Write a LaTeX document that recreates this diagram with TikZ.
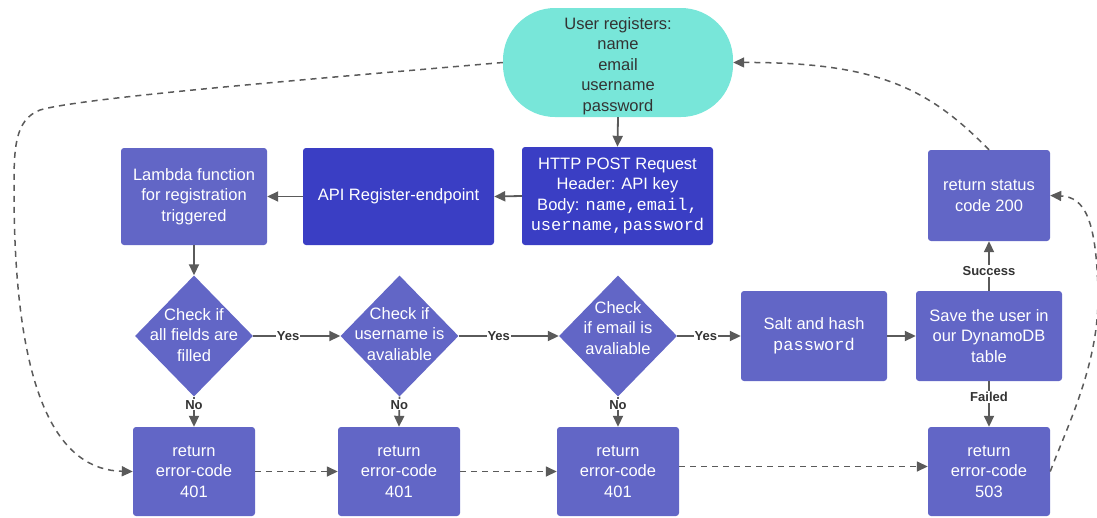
\documentclass[tikz,border=0pt]{standalone}
\usepackage{fontspec}
\setmainfont{Liberation Sans}
\setmonofont{Liberation Mono}
\usetikzlibrary{shapes.geometric,arrows.meta}
\definecolor{darkb}{HTML}{3A3EC4}
\definecolor{midb}{HTML}{6266C6}
\definecolor{teal}{HTML}{78E6D9}
\definecolor{gc}{HTML}{5A5A5A}
\definecolor{txt}{HTML}{333333}
\begin{document}
\begin{tikzpicture}[x=1pt,y=-1pt,
  base/.style={rectangle, rounded corners=3pt, text=white, align=center, inner sep=0pt,
     font=\fontsize{16.5}{20.5}\selectfont},
  midbox/.style={base, fill=midb},
  darkbox/.style={base, fill=darkb},
  dia/.style={diamond, fill=midb, inner sep=0pt, minimum width=118pt, minimum height=121pt},
  dtext/.style={text=white, align=center, inner sep=0pt, font=\fontsize{16.5}{20.5}\selectfont},
  arr/.style={draw=gc, line width=1.8pt, -{Triangle[length=11pt,width=10pt]}},
  darr/.style={draw=gc, line width=1.5pt, dash pattern=on 6pt off 5pt, -{Triangle[length=11pt,width=10pt]}},
  lbl/.style={fill=white, text=txt, inner sep=1pt, font=\fontsize{13}{15}\selectfont\bfseries}]
\useasboundingbox (0,0) rectangle (1097,517);

% nodes
\node[base, fill=teal, rounded corners=52pt, minimum width=230pt, minimum height=109pt] (start) at (618,62.5) {};
\node[dtext, text=txt] (startt) at (618,66) {User registers:\\name\\email\\username\\password};
\node[darkbox, minimum width=191pt, minimum height=98pt] (http) at (617.5,196)
  {HTTP POST Request\\Header: API key\\Body: {\fontsize{17}{20.5}\selectfont\ttfamily name,email,}\\{\fontsize{17}{20.5}\selectfont\ttfamily username,password}};
\node[darkbox, minimum width=191pt, minimum height=97pt] (api) at (398.5,196.5) {API Register-endpoint};
\node[midbox, minimum width=146pt, minimum height=97pt] (lambda) at (194,196.5) {Lambda function\\for registration\\triggered};
\node[midbox, minimum width=122pt, minimum height=91pt] (status) at (989,195.5) {return status\\code 200};

\node[dia] (d1) at (194,336) {};
\node[dia] (d2) at (399.5,336) {};
\node[dia] (d3) at (618,336) {};
\node[dtext] (d1t) at (194,335) {Check if\\all fields are\\filled};
\node[dtext] (d2t) at (399.5,334) {Check if\\username is\\avaliable};
\node[dtext] (d3t) at (618,328) {Check\\if email is\\avaliable};

\node[midbox, minimum width=146pt, minimum height=90pt] (salt) at (814,336) {Salt and hash\\{\fontsize{17}{20.5}\selectfont\ttfamily password}};
\node[midbox, minimum width=146pt, minimum height=90pt] (save) at (989,336) {Save the user in\\our DynamoDB\\table};

\node[midbox, minimum width=122pt, minimum height=89pt] (e1) at (194,471.5) {return\\error-code\\401};
\node[midbox, minimum width=122pt, minimum height=89pt] (e2) at (399,471.5) {return\\error-code\\401};
\node[midbox, minimum width=122pt, minimum height=89pt] (e3) at (618,471.5) {return\\error-code\\401};
\node[midbox, minimum width=122pt, minimum height=89pt] (e4) at (989,471.5) {return\\error-code\\503};

% solid connectors
\draw[arr] (start.south) -- (http.north);
\draw[arr] (http.west) -- (api.east);
\draw[arr] (api.west) -- (lambda.east);
\draw[arr] (lambda.south) -- (d1.north);
\draw[arr] (d1.east) -- node[lbl, pos=0.4] {Yes} (d2.west);
\draw[arr] (d2.east) -- node[lbl, pos=0.4] {Yes} (d3.west);
\draw[arr] (d3.east) -- node[lbl, pos=0.45] {Yes} (salt.west);
\draw[arr] (salt.east) -- (save.west);
\draw[arr] (save.north) -- node[lbl, pos=0.4] {Success} (status.south);
\draw[arr] (save.south) -- node[lbl, pos=0.35] {Failed} (e4.north);
\draw[arr] (d1.south) -- node[lbl, pos=0.27] {No} (e1.north);
\draw[arr] (d2.south) -- node[lbl, pos=0.27] {No} (e2.north);
\draw[arr] (d3.south) -- node[lbl, pos=0.27] {No} (e3.north);

% dashed connectors
\draw[darr] (start.west) .. controls (300,80) and (80,98) .. (40,110)
   .. controls (14,120) and (14,150) .. (14,190)
   .. controls (14,400) and (60,470) .. (e1.west);
\draw[darr] (e1.east) -- (e2.west);
\draw[darr] (e2.east) -- (e3.west);
\draw[darr] ([yshift=5pt]e3.east) -- ([yshift=5pt]e4.west);
\draw[darr] (status.north) .. controls (930,90) and (880,62) .. (start.east);
\draw[darr] (e4.east) .. controls (1070,420) and (1100,360) .. (1098,290)
   .. controls (1096,220) and (1085,197) .. (status.east);
\end{tikzpicture}
\end{document}
